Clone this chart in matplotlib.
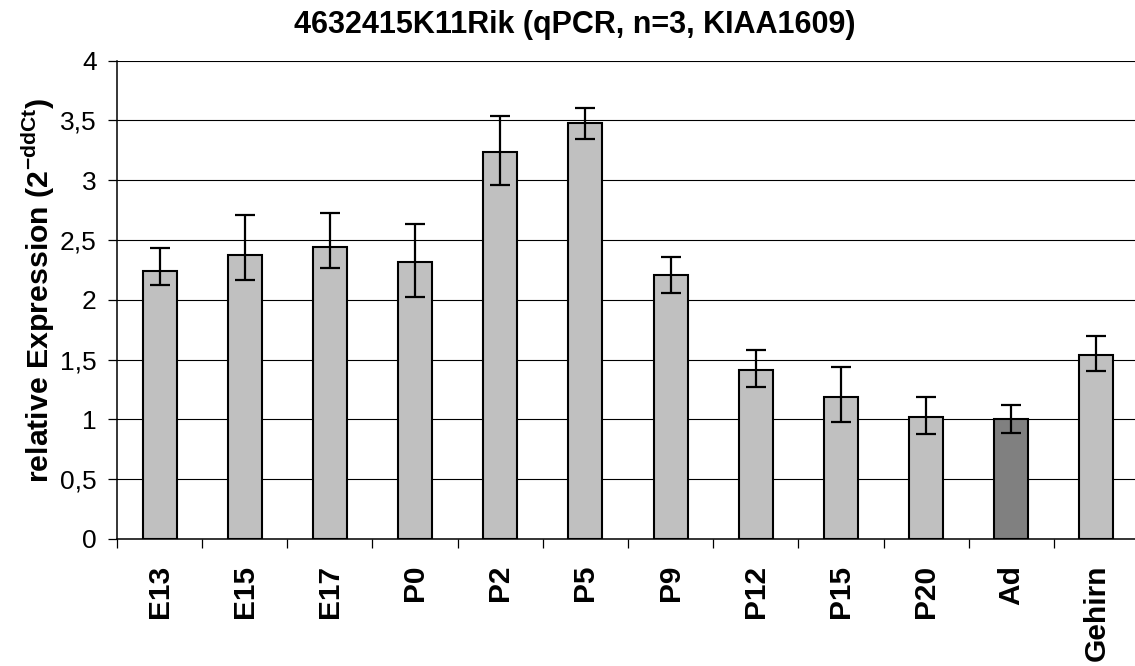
import numpy as np
import matplotlib
matplotlib.use('Agg')
import matplotlib.pyplot as plt
from matplotlib.ticker import FixedLocator, FuncFormatter

plt.rcParams['font.family'] = ['Liberation Sans', 'DejaVu Sans']
plt.rcParams['mathtext.fontset'] = 'custom'
plt.rcParams['mathtext.rm'] = 'Liberation Sans'
plt.rcParams['mathtext.bf'] = 'Liberation Sans:bold'

# qPCR stages and relative expression (2^-ddCt), asymmetric error limits
stages = ['E13', 'E15', 'E17', 'P0', 'P2', 'P5', 'P9', 'P12', 'P15', 'P20', 'Ad', 'Gehirn']
expression = [2.24, 2.375, 2.445, 2.314, 3.233, 3.476, 2.205, 1.413, 1.185, 1.023, 1.0, 1.541]
err_upper = [2.433, 2.709, 2.723, 2.634, 3.535, 3.604, 2.355, 1.578, 1.441, 1.190, 1.118, 1.698]
err_lower = [2.124, 2.166, 2.269, 2.021, 2.963, 3.348, 2.057, 1.268, 0.976, 0.878, 0.889, 1.402]
bar_colors = ['#c0c0c0'] * 10 + ['#808080', '#c0c0c0']

title = '4632415K11Rik (qPCR, n=3, KIAA1609)'
ylabel = r'relative Expression (2$^{\mathbf{-ddCt}}$)'

fig = plt.figure(figsize=(11.35, 6.66), dpi=100)
# plot area runs past the right edge of the figure
ax = fig.add_axes([117 / 1135, 1 - 539 / 666, (1139 - 117) / 1135, (539 - 60.7) / 666])

x = np.arange(len(stages))
vals = np.array(expression)
yerr = np.vstack([vals - np.array(err_lower), np.array(err_upper) - vals])

ax.set_axisbelow(True)
ax.bar(x, vals, width=0.4, color=bar_colors, edgecolor='black', linewidth=1.5, zorder=2)
ax.errorbar(x, vals, yerr=yerr, fmt='none', ecolor='black', elinewidth=1.6,
            capsize=7.2, capthick=1.6, zorder=3)

ax.set_xlim(-0.5, len(stages) - 0.5)
ax.set_ylim(0, 4)
ax.set_yticks(np.arange(0, 4.01, 0.5))
ax.yaxis.set_major_formatter(FuncFormatter(lambda v, p: ('%g' % v).replace('.', ',')))
ax.yaxis.grid(True, color='black', linewidth=0.8)

ax.set_xticks(x)
ax.set_xticklabels(stages, rotation=90, fontsize=21.5, fontweight='bold')
ax.xaxis.set_minor_locator(FixedLocator(np.arange(-0.5, len(stages), 1.0)))
ax.tick_params(axis='x', which='major', length=0, pad=18.5)
ax.tick_params(axis='x', which='minor', length=6.5, width=0.9, direction='out')
ax.tick_params(axis='y', which='major', length=6.5, width=0.9, direction='out',
               pad=8, labelsize=19)

for side in ['top', 'right']:
    ax.spines[side].set_visible(False)
for side in ['left', 'bottom']:
    ax.spines[side].set_linewidth(1.1)

fig.text(575 / 1135, 1 - 33 / 666, title, ha='center', va='baseline',
         fontsize=22, fontweight='bold')
fig.text(38 / 1135, 1 - 290 / 666, ylabel, rotation=90, ha='center', va='center',
         fontsize=21.8, fontweight='bold')

fig.savefig('out.png', dpi=100)
